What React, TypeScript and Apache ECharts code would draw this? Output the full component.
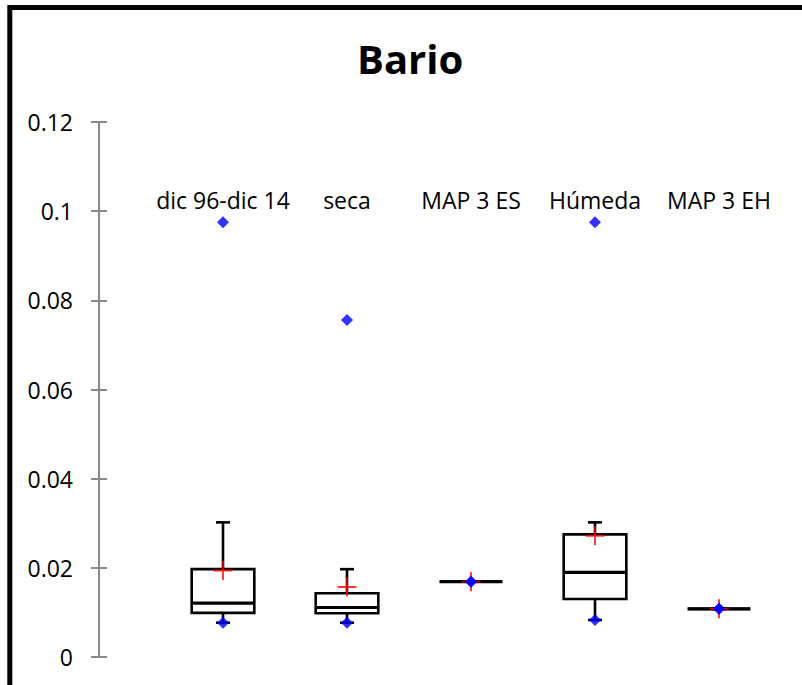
import { useEffect, useRef } from 'react';
import * as echarts from 'echarts';

// Barium concentrations per period / campaign
const categories = ['dic 96-dic 14', 'seca', 'MAP 3 ES', 'Húmeda', 'MAP 3 EH'];
const whiskerLow = [0.0077, 0.0077, 0.0169, 0.0083, 0.0108];
const quartile1 = [0.0099, 0.0098, 0.0169, 0.013, 0.0108];
const medians = [0.0121, 0.0111, 0.0169, 0.019, 0.0108];
const quartile3 = [0.0197, 0.0143, 0.0169, 0.0275, 0.0108];
const whiskerHigh = [0.0302, 0.0197, 0.0169, 0.0302, 0.0108];
const means = [0.0194, 0.0157, 0.0169, 0.0272, 0.0108];
const minima = [0.0077, 0.0077, 0.0169, 0.0083, 0.0108];
const maxima = [0.0975, 0.0756, 0.0169, 0.0975, 0.0108];

const yMin = 0;
const yMax = 0.12;
const yStep = 0.02;

const FONT = "'Open Sans', sans-serif";
const AXIS_GRAY = '#8a8a8a';
const PLUS_PATH = 'path://M9,0H11V9H20V11H11V20H9V11H0V9H9Z';

export default function App() {
  const ref = useRef<HTMLDivElement>(null);

  useEffect(() => {
    if (!ref.current) return;
    const chart = echarts.init(ref.current, null, { renderer: 'svg' });

    const boxData = categories.map((_, i) => [
      i,
      whiskerLow[i],
      quartile1[i],
      medians[i],
      quartile3[i],
      whiskerHigh[i],
    ]);

    // box, median and whiskers with short end caps
    const renderBox = (params: any, api: any) => {
      const i = api.value(0);
      const cx = api.coord([i, api.value(1)])[0];
      const yLo = api.coord([i, api.value(1)])[1];
      const yQ1 = api.coord([i, api.value(2)])[1];
      const yMed = api.coord([i, api.value(3)])[1];
      const yQ3 = api.coord([i, api.value(4)])[1];
      const yHi = api.coord([i, api.value(5)])[1];
      const bw = api.size([1, 0])[0] * 0.505;
      const cap = 7;
      const stroke = { stroke: '#000', lineWidth: 2.6 };
      return {
        type: 'group',
        children: [
          { type: 'line', shape: { x1: cx, y1: yQ1, x2: cx, y2: yLo }, style: stroke },
          { type: 'line', shape: { x1: cx - cap, y1: yLo, x2: cx + cap, y2: yLo }, style: stroke },
          { type: 'line', shape: { x1: cx, y1: yQ3, x2: cx, y2: yHi }, style: stroke },
          { type: 'line', shape: { x1: cx - cap, y1: yHi, x2: cx + cap, y2: yHi }, style: stroke },
          {
            type: 'rect',
            shape: { x: cx - bw / 2, y: yQ3, width: bw, height: yQ1 - yQ3 },
            style: { fill: '#fff', stroke: '#000', lineWidth: 2.6 },
          },
          {
            type: 'line',
            shape: { x1: cx - bw / 2, y1: yMed, x2: cx + bw / 2, y2: yMed },
            style: { stroke: '#000', lineWidth: 3.2 },
          },
        ],
      };
    };

    const option: any = {
      animation: false,
      backgroundColor: '#fff',
      title: {
        text: 'Bario',
        left: 352,
        top: 33,
        textStyle: { fontFamily: FONT, fontWeight: 'bold', fontSize: 40, color: '#000' },
      },
      graphic: [
        {
          type: 'rect',
          shape: { x: 9.8, y: 7.5, width: 900, height: 900 },
          style: { fill: 'none', stroke: '#000', lineWidth: 5 },
          silent: true,
          z: 100,
        },
      ],
      grid: { left: 161, right: 21, top: 122, bottom: 28 },
      xAxis: {
        type: 'category',
        data: categories,
        position: 'top',
        offset: -89,
        boundaryGap: true,
        axisLine: { show: false },
        axisTick: { show: false },
        splitLine: { show: false },
        axisLabel: { fontFamily: FONT, fontSize: 23, color: '#000', margin: 0, interval: 0 },
      },
      yAxis: [
        {
          type: 'value',
          min: yMin,
          max: yMax,
          interval: yStep,
          offset: 62,
          axisLine: { show: true, lineStyle: { color: AXIS_GRAY, width: 2 } },
          axisTick: { show: true, length: 8, lineStyle: { color: AXIS_GRAY, width: 2 } },
          splitLine: { show: false },
          axisLabel: { fontFamily: FONT, fontSize: 23, color: '#000', margin: 26 },
        },
        {
          type: 'value',
          min: yMin,
          max: yMax,
          interval: yStep,
          offset: 62,
          position: 'left',
          axisLine: { show: false },
          axisTick: { show: true, inside: true, length: 8, lineStyle: { color: AXIS_GRAY, width: 2 } },
          splitLine: { show: false },
          axisLabel: { show: false },
        },
      ],
      series: [
        {
          type: 'custom',
          renderItem: renderBox,
          data: boxData,
          encode: { x: 0, y: [1, 2, 3, 4, 5] },
          clip: false,
          z: 2,
        },
        {
          type: 'scatter',
          data: means.map((v, i) => [i, v]),
          symbol: PLUS_PATH,
          symbolSize: 19,
          itemStyle: { color: '#ff0000' },
          z: 3,
        },
        {
          type: 'scatter',
          data: minima.map((v, i) => [i, v]),
          symbol: 'diamond',
          symbolSize: 12,
          itemStyle: { color: '#0000ff' },
          z: 4,
        },
        {
          type: 'scatter',
          data: maxima.map((v, i) => [i, v]),
          symbol: 'diamond',
          symbolSize: 12,
          itemStyle: { color: '#0000ff' },
          z: 4,
        },
      ],
    };

    chart.setOption(option);
    return () => chart.dispose();
  }, []);

  return (
    <div
      ref={ref}
      style={{ position: 'absolute', left: 0, top: 0, width: 802, height: 685 }}
    />
  );
}
